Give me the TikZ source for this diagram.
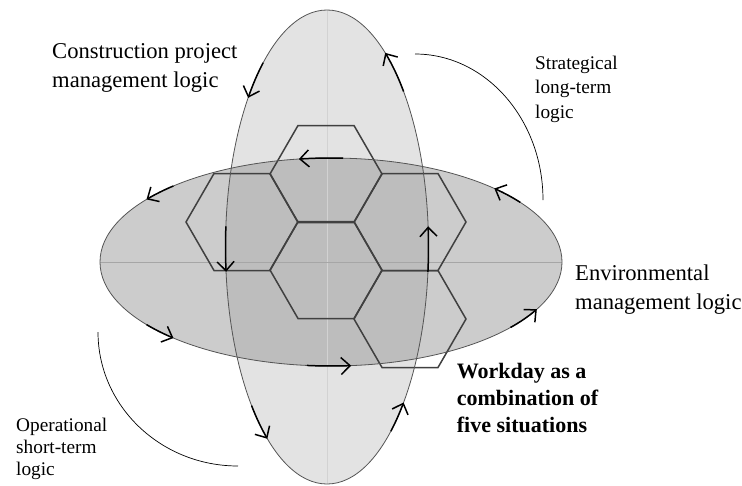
\documentclass[tikz,border=0pt]{standalone}
\usepackage{fontspec}
\setmainfont{Liberation Serif}
\usepackage{tikz}
\usetikzlibrary{shapes.geometric, calc, arrows.meta, bending}
\definecolor{vfill}{gray}{0.89}
\definecolor{hfill}{gray}{0.80}
\definecolor{bothfill}{gray}{0.74}
\definecolor{rim}{gray}{0.33}
\definecolor{hexline}{gray}{0.25}
\tikzset{
  hexcell/.style={regular polygon, regular polygon sides=6, minimum size=112pt,
    inner sep=0pt, outer sep=0pt, draw=hexline, line width=1.5pt},
  flow/.style={line width=1.5pt, -{Straight Barb[length=9pt,width=17pt]}},
  logicarc/.style={line width=0.7pt},
  biglabel/.style={anchor=north west, inner sep=0pt, align=left,
    font=\fontsize{22.6}{29}\selectfont},
  smalllabel/.style={anchor=north west, inner sep=0pt, align=left,
    font=\fontsize{19.3}{24.5}\selectfont},
  boldlabel/.style={anchor=north west, inner sep=0pt, align=left,
    font=\bfseries\fontsize{22}{26.7}\selectfont},
}
\begin{document}
\begin{tikzpicture}[x=1pt, y=-1pt]
\useasboundingbox (0,0) rectangle (742,485);
\coordinate (vcen) at (327,247);
\coordinate (hcen) at (331,262);
% the two logics
\fill[vfill] (vcen) ellipse [x radius=101.5, y radius=237];
\fill[hfill] (hcen) ellipse [x radius=231, y radius=104];
\begin{scope}
  \clip (vcen) ellipse [x radius=101.5, y radius=237];
  \fill[bothfill] (hcen) ellipse [x radius=231, y radius=104];
\end{scope}
\draw[gray!35] (327,10) -- (327,484);
\draw[gray!70] (100,262) -- (562,262);
% five situations
\node[hexcell] (hexC) at (326,270) {};
\node[hexcell] (hexT) at (326,174) {};
\node[hexcell] (hexUL) at (242,222) {};
\node[hexcell] (hexUR) at (410,222) {};
\node[hexcell] (hexLR) at (410,319) {};
\draw[rim, line width=0.8pt] (vcen) ellipse [x radius=101.5, y radius=237];
\draw[rim, line width=0.8pt] (hcen) ellipse [x radius=231, y radius=104];
% flow along the vertical ellipse
\draw[flow] ($(vcen)+({101.5*cos(231)},{237*sin(231)})$) arc[start angle=231, end angle=219, x radius=101.5, y radius=237];
\draw[flow] ($(vcen)+({101.5*cos(319)},{237*sin(319)})$) arc[start angle=319, end angle=305, x radius=101.5, y radius=237];
\draw[flow] ($(vcen)+({101.5*cos(138)},{237*sin(138)})$) arc[start angle=138, end angle=126, x radius=101.5, y radius=237];
\draw[flow] ($(vcen)+({101.5*cos(51)},{237*sin(51)})$) arc[start angle=51, end angle=41, x radius=101.5, y radius=237];
\draw[flow] ($(vcen)+({101.5*cos(185)},{237*sin(185)})$) arc[start angle=185, end angle=174, x radius=101.5, y radius=237];
\draw[flow] ($(vcen)+({101.5*cos(6)},{237*sin(6)})$) arc[start angle=6, end angle=-5, x radius=101.5, y radius=237];
% flow along the horizontal ellipse
\draw[flow] ($(hcen)+({231*cos(227)},{104*sin(227)})$) arc[start angle=227, end angle=217, x radius=231, y radius=104];
\draw[flow] ($(hcen)+({231*cos(143)},{104*sin(143)})$) arc[start angle=143, end angle=133, x radius=231, y radius=104];
\draw[flow] ($(hcen)+({231*cos(325)},{104*sin(325)})$) arc[start angle=325, end angle=315, x radius=231, y radius=104];
\draw[flow] ($(hcen)+({231*cos(39)},{104*sin(39)})$) arc[start angle=39, end angle=27, x radius=231, y radius=104];
\draw[flow] ($(hcen)+({231*cos(273)},{104*sin(273)})$) arc[start angle=273, end angle=262, x radius=231, y radius=104];
\draw[flow] ($(hcen)+({231*cos(96)},{104*sin(96)})$) arc[start angle=96, end angle=85, x radius=231, y radius=104];
% long-term and short-term arcs
\draw[logicarc] (415,54) arc[start angle=270, end angle=360, x radius=128, y radius=146];
\draw[logicarc] (98,332) arc[start angle=180, end angle=90, x radius=140, y radius=134];
% labels
\node[biglabel] (cpm) at (52,43.4) {Construction project\\management logic};
\node[smalllabel] (slt) at (535,55.5) {Strategical\\long-term\\logic};
\node[biglabel] (eml) at (575,264.4) {Environmental\\management logic};
\node[boldlabel] (wday) at (456.7,363.3) {Workday as a\\combination of\\five situations};
\node[smalllabel, font=\fontsize{19.3}{22}\selectfont] (olt) at (16,417.7) {Operational\\short-term\\logic};
\end{tikzpicture}
\end{document}
